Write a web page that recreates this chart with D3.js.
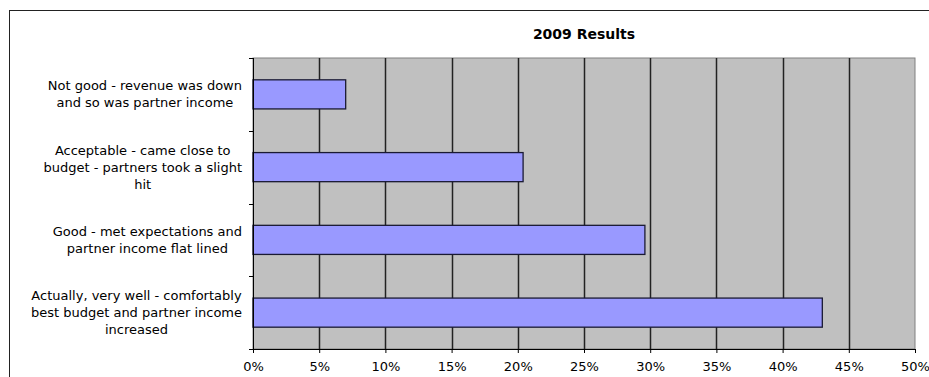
<!DOCTYPE html>
<html>
<head>
<meta charset="utf-8">
<script src="https://cdn.jsdelivr.net/npm/d3@7"></script>
<style>
  body { margin: 0; background: #fff; }
  svg { display: block; }
  text { font-family: "DejaVu Sans", Verdana, sans-serif; fill: #000; }
</style>
</head>
<body>
<div id="chart"></div>
<script>
// chart data, top to bottom
const categories = [
    ["Not good - revenue was down", "and so was partner income"],
    ["Acceptable - came close to", "budget - partners took a slight", "hit"],
    ["Good - met expectations and", "partner income flat lined"],
    ["Actually, very well - comfortably", "best budget and partner income", "increased"]
];
const values = [7.0, 20.4, 29.6, 43.0];
const xTicks = [0, 5, 10, 15, 20, 25, 30, 35, 40, 45, 50];
const title = "2009 Results";

const W = 929, H = 377;
const margin = { top: 58, right: 14, bottom: 28, left: 253 };
const width = W - margin.left - margin.right;
const height = H - margin.top - margin.bottom;

const svg = d3.select("#chart").append("svg")
    .attr("width", W)
    .attr("height", H);

// outer chart frame (runs off the right and bottom edge)
svg.append("rect")
    .attr("x", 9.5).attr("y", 10.5)
    .attr("width", 1000).attr("height", 1000)
    .attr("fill", "none")
    .attr("stroke", "#222")
    .attr("stroke-width", 1);

const g = svg.append("g")
    .attr("transform", "translate(" + margin.left + "," + margin.top + ")");

const x = d3.scaleLinear().domain([0, 50]).range([0, width]);
const y = d3.scaleBand()
    .domain(d3.range(categories.length))
    .range([0, height])
    .paddingInner(0.6)
    .paddingOuter(0.3);

// plot area
g.append("rect")
    .attr("width", width)
    .attr("height", height)
    .attr("fill", "#c0c0c0")
    .attr("stroke", "#808080");

// vertical gridlines
g.selectAll(".grid")
    .data(xTicks.filter(d => d > 0 && d < 50))
    .enter()
    .append("line")
    .attr("class", "grid")
    .attr("x1", d => Math.round(x(d)) + 0.5)
    .attr("x2", d => Math.round(x(d)) + 0.5)
    .attr("y1", 0)
    .attr("y2", height)
    .attr("stroke", "#222")
    .attr("stroke-width", 1.5);

// bars
g.selectAll(".bar")
    .data(values)
    .enter()
    .append("rect")
    .attr("class", "bar")
    .attr("x", 0)
    .attr("y", (d, i) => y(i))
    .attr("width", d => x(d))
    .attr("height", y.bandwidth())
    .attr("fill", "#9999ff")
    .attr("stroke", "#1a1a33")
    .attr("stroke-width", 1.3);

// x axis
const xAxis = g.append("g")
    .attr("transform", "translate(0," + height + ")")
    .call(d3.axisBottom(x).tickValues(xTicks).tickSize(4).tickSizeOuter(0).tickFormat(d => d + "%"));
xAxis.select(".domain").attr("stroke", "#000");
xAxis.selectAll(".tick line").attr("stroke", "#000");
xAxis.selectAll(".tick text")
    .attr("y", 13)
    .style("font-size", "13px")
    .style("font-family", "'DejaVu Sans', sans-serif");

// y axis: line with ticks at category boundaries
const step = height / categories.length;
g.append("line")
    .attr("x1", 0.5).attr("x2", 0.5)
    .attr("y1", 0).attr("y2", height)
    .attr("stroke", "#000");
g.selectAll(".ytick")
    .data(d3.range(categories.length + 1))
    .enter()
    .append("line")
    .attr("class", "ytick")
    .attr("x1", -4).attr("x2", 0)
    .attr("y1", d => Math.round(d * step) + 0.5)
    .attr("y2", d => Math.round(d * step) + 0.5)
    .attr("stroke", "#000");

// category labels: lines centered in a box that is right-aligned to the axis
const lineH = 17;
const labels = g.selectAll(".cat")
    .data(categories)
    .enter()
    .append("text")
    .attr("class", "cat")
    .attr("text-anchor", "middle")
    .style("font-size", "13px");

labels.selectAll("tspan")
    .data(d => d.map((t, j) => ({ t: t, j: j, n: d.length })))
    .enter()
    .append("tspan")
    .attr("x", 0)
    .attr("y", d => (d.j - (d.n - 1) / 2) * lineH)
    .attr("dy", "0.35em")
    .text(d => d.t);

labels.each(function(d, i) {
    let maxW = 0;
    d3.select(this).selectAll("tspan").each(function() {
        maxW = Math.max(maxW, this.getComputedTextLength());
    });
    d3.select(this).attr("transform",
        "translate(" + (-11 - maxW / 2) + "," + (y(i) + y.bandwidth() / 2) + ")");
});

// title
g.append("text")
    .attr("x", width / 2)
    .attr("y", -19)
    .attr("text-anchor", "middle")
    .style("font-size", "14px")
    .style("font-weight", "bold")
    .text(title);
</script>
</body>
</html>
